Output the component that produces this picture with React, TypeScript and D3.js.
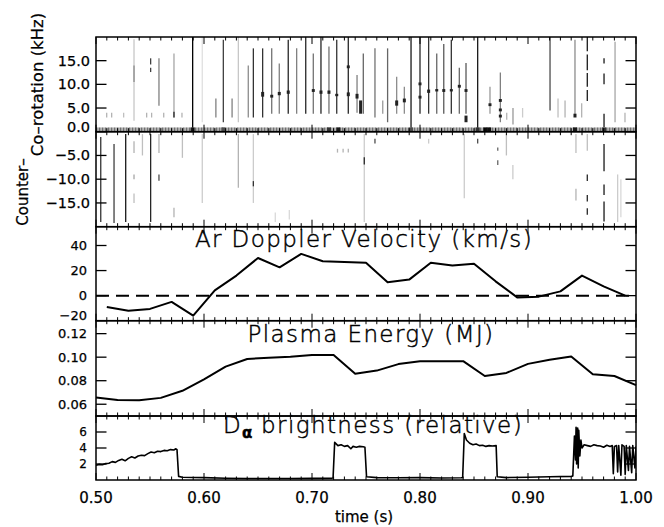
import React from 'react';
import * as d3 from 'd3';

const W = 664, H = 527;
const X0 = 96, X1 = 636;

// ---------- data ----------
const timeTicks = [0.5, 0.6, 0.7, 0.8, 0.9, 1.0];
const timeTickLabels = ['0.50', '0.60', '0.70', '0.80', '0.90', '1.00'];

const coTicks = [0, 5, 10, 15];
const coTickLabels = ['0.0', '5.0', '10.0', '15.0'];
const counterTicks = [-5, -10, -15];
const counterTickLabels = ['\u22125.0', '\u221210.0', '\u221215.0'];
const dopplerTicks = [-20, 0, 20, 40];
const dopplerTickLabels = ['\u221220', '0', '20', '40'];
const energyTicks = [0.06, 0.08, 0.1, 0.12];
const energyTickLabels = ['0.06', '0.08', '0.10', '0.12'];
const daTicks = [2, 4, 6];
const daTickLabels = ['2', '4', '6'];

// spectrogram streaks: [time s, fLow kHz, fHigh kHz, darkness 0..1]
const coStreaks: [number, number, number, number][] = [
  [0.5352, 2.3, 19.5, 0.22], [0.5352, 10.5, 14, 0.45],
  [0.5506, 14.2, 15.5, 0.75], [0.5506, 12.6, 13.5, 0.75],
  [0.5583, 5.5, 15.5, 0.5], [0.5722, 3, 16.5, 0.35], [0.5722, 3, 4.2, 0.85],
  [0.5895, 0, 20, 1.0], [0.5984, 2, 20, 0.12], [0.611, 3, 7, 0.5], [0.6179, 2, 19.4, 0.75],
  [0.626, 3, 7, 0.5], [0.6318, 2, 20, 0.22], [0.641, 3, 14, 0.45],
  [0.6457, 3, 17.6, 0.8], [0.6543, 3, 17.6, 0.8], [0.6627, 3.8, 17.6, 0.55],
  [0.6697, 3.8, 14.4, 0.5], [0.678, 3.8, 19.4, 0.85], [0.6858, 3.8, 17.6, 0.5],
  [0.6942, 3.8, 20, 0.85], [0.7012, 3.8, 16.5, 0.55], [0.7083, 3.8, 20, 0.85],
  [0.7157, 3.8, 18, 0.55], [0.7229, 3.8, 19.4, 0.8], [0.7336, 3.8, 20, 0.85],
  [0.7417, 4, 12, 0.5], [0.7475, 3.8, 16.5, 0.6],
  [0.7583, 3, 17.6, 0.55], [0.7655, 3.8, 6.6, 0.4], [0.77, 2, 17.6, 0.6],
  [0.7784, 3.8, 11.6, 0.45], [0.7855, 3.8, 9.5, 0.45], [0.7917, 0, 20, 0.9],
  [0.8, 3.8, 20, 0.85], [0.808, 3.8, 20, 0.8], [0.8155, 3.8, 16.5, 0.6],
  [0.822, 3.8, 18.5, 0.65], [0.829, 3.8, 19.4, 0.8], [0.8364, 3.8, 13.5, 0.6],
  [0.8426, 3.8, 14.5, 0.65], [0.8534, 0, 20, 0.9], [0.8648, 3.8, 9.5, 0.4],
  [0.8744, 2, 12.5, 0.5], [0.8803, 2.5, 4, 0.3], [0.8861, 1.5, 5, 0.4],
  [0.895, 3, 5, 0.2], [0.9204, 4.5, 20, 0.7], [0.9278, 3, 7, 0.25],
  [0.9343, 3, 6.6, 0.3], [0.9435, 3.5, 19.4, 0.45], [0.9497, 3, 6, 0.3],
  [0.9549, 17, 20, 0.9], [0.9549, 13, 16.3, 0.9], [0.9549, 9.5, 12.4, 0.9], [0.9549, 6.5, 8.8, 0.9],
  [0.9704, 14.4, 15.5, 0.9], [0.9704, 10, 12.3, 0.9], [0.9704, 1, 3.8, 0.9],
  [0.9806, 2, 19, 0.35], [0.9898, 2, 4, 0.3],
  [0.5099, 3, 4, 0.3], [0.5145, 3, 4, 0.3], [0.5256, 3, 4, 0.25], [0.5469, 3, 4, 0.3],
  [0.5515, 3, 4, 0.3], [0.5627, 3, 4, 0.3], [0.5796, 3, 4, 0.3],
];

// dark blobs in co-rotation: [time, fLow, fHigh]
const coBlobs: [number, number, number][] = [
  [0.6543, 7.4, 8.4], [0.6627, 7.2, 7.8], [0.6697, 7.7, 8.4], [0.678, 8, 8.7],
  [0.7012, 8.4, 9], [0.7083, 8, 8.7], [0.7157, 8, 8.7], [0.7229, 7.5, 8],
  [0.7336, 13.4, 14], [0.7336, 7.5, 8.3], [0.745, 3.8, 6.6], [0.7417, 7, 8],
  [0.7784, 5.5, 6.6], [0.7855, 6.2, 7], [0.8, 9.8, 10.4], [0.8, 7, 7.6],
  [0.808, 8.2, 8.9], [0.8155, 8.5, 9], [0.822, 8.4, 9], [0.829, 8.5, 9],
  [0.8364, 9.3, 9.9], [0.8426, 8.4, 9], [0.8426, 2, 3.4], [0.8648, 5.4, 6],
  [0.8744, 6.3, 6.9], [0.8744, 4.3, 4.9], [0.8744, 3, 3.6], [0.9435, 3, 3.8],
];

const counterStreaks: [number, number, number, number][] = [
  [0.5044, -19, -1.1, 0.8], [0.5167, -19.2, -2.6, 0.75], [0.5275, -19, -0.5, 0.9],
  [0.5352, -4.5, -2, 0.3], [0.5352, -10, -9, 0.35], [0.5352, -15, -13, 0.25],
  [0.543, -5, -0.5, 0.25], [0.5506, -19, -0.5, 0.85], [0.5583, -4.5, -0.5, 0.3],
  [0.5583, -10.3, -9, 0.7], [0.5722, -18, -16, 0.3], [0.58, -5.5, -0.5, 0.25],
  [0.5984, -15, -0.5, 0.2], [0.6318, -11.8, -0.5, 0.3], [0.6457, -15, -0.5, 0.2],
  [0.6457, -11.5, -10.4, 0.8], [0.666, -19, -17, 0.15], [0.679, -18.5, -16.5, 0.15],
  [0.7236, -4.4, -3.6, 0.3], [0.7288, -4.4, -3.6, 0.3], [0.7336, -4.4, -3.6, 0.3],
  [0.7484, -19, -0.5, 0.2], [0.7484, -6.9, -5.4, 0.85], [0.7583, -2.5, -1.5, 0.7],
  [0.808, -2.5, -1.5, 0.2], [0.841, -14, -0.5, 0.2], [0.8534, -2.5, -1.5, 0.7],
  [0.872, -4, -3.3, 0.6], [0.872, -7, -6, 0.6], [0.88, -5, -0.5, 0.25],
  [0.886, -10, -7, 0.2], [0.9444, -4.5, -0.5, 0.25], [0.9444, -14.5, -12, 0.3],
  [0.9549, -4, -0.5, 0.25], [0.9549, -10.4, -9, 0.85], [0.9549, -14.7, -13.3, 0.85],
  [0.9549, -17.5, -16.1, 0.85], [0.9704, -8.3, -2.6, 0.9], [0.9704, -13.3, -11.1, 0.9],
  [0.9704, -18.9, -14.7, 0.9], [0.983, -19, -9, 0.2], [0.986, -18, -10, 0.15],
];

// darker spots in the 0 kHz band: [time, darkness]
const bandSpots: [number, number][] = [
  [0.5895, 0.9], [0.6179, 0.7], [0.7157, 0.8], [0.7245, 0.9], [0.7917, 0.7],
  [0.8534, 0.8], [0.8605, 0.95], [0.864, 0.95], [0.9435, 0.9], [0.9704, 0.8],
];

// Ar Doppler velocity (km/s)
const dopplerTime = [0.51, 0.53, 0.55, 0.57, 0.59, 0.61, 0.63, 0.65, 0.67, 0.69, 0.71, 0.73, 0.75,
  0.77, 0.79, 0.81, 0.83, 0.85, 0.87, 0.89, 0.91, 0.93, 0.95, 0.97, 0.99];
const dopplerValue = [-9, -12, -10.6, -5, -16, 4.2, 16, 30, 22.6, 33.3, 27.4, 26.8, 26.2,
  10.6, 12.8, 26.2, 24, 25.4, 11.4, -1.4, -0.8, 3.4, 16, 7.4, 0];

// Plasma energy (MJ)
const energyTime = [0.5, 0.52, 0.54, 0.56, 0.58, 0.6, 0.62, 0.64, 0.66, 0.68, 0.7, 0.72, 0.74,
  0.76, 0.78, 0.8, 0.82, 0.84, 0.86, 0.88, 0.9, 0.92, 0.94, 0.96, 0.98, 1.0];
const energyValue = [0.0657, 0.0635, 0.0633, 0.0654, 0.0714, 0.0812, 0.092, 0.0985, 0.0995, 0.1003,
  0.1018, 0.1018, 0.086, 0.0886, 0.0941, 0.0966, 0.0966, 0.0966, 0.084, 0.0866, 0.0943, 0.0978,
  0.1006, 0.0855, 0.084, 0.0763];

// D-alpha brightness (relative)
const daTime = [0.5, 0.503, 0.506, 0.509, 0.512, 0.515, 0.518, 0.521, 0.524, 0.527, 0.53, 0.533,
  0.536, 0.539, 0.542, 0.545, 0.548, 0.551, 0.554, 0.557, 0.56, 0.563, 0.566, 0.569, 0.572, 0.574,
  0.575, 0.5765, 0.58, 0.6, 0.62, 0.64, 0.66, 0.68, 0.7, 0.718, 0.7195, 0.721, 0.724, 0.727, 0.73,
  0.733, 0.736, 0.738, 0.741, 0.744, 0.7475, 0.749, 0.7505, 0.76, 0.78, 0.8, 0.82, 0.838, 0.8395,
  0.841, 0.843, 0.846, 0.849, 0.852, 0.855, 0.858, 0.861, 0.864, 0.867, 0.8705, 0.8715, 0.88, 0.9,
  0.92, 0.94, 0.9415, 0.943, 0.944, 0.9445, 0.945, 0.946, 0.9465, 0.947, 0.948, 0.949, 0.95, 0.952,
  0.955, 0.958, 0.961, 0.964, 0.967, 0.97, 0.973, 0.976, 0.978, 0.979, 0.98, 0.982, 0.983, 0.984,
  0.986, 0.987, 0.989, 0.99, 0.991, 0.993, 0.994, 0.996, 0.997, 0.999, 1.0];
const daValue = [1.85, 1.95, 1.9, 2.05, 2.1, 2.3, 2.2, 2.45, 2.6, 2.4, 2.7, 2.9,
  2.75, 3.0, 3.1, 3.05, 3.3, 3.5, 3.4, 3.6, 3.55, 3.7, 3.65, 3.8, 3.75, 3.9,
  3.8, 0.45, 0.35, 0.3, 0.22, 0.18, 0.18, 0.18, 0.2, 0.22, 0.25, 4.7, 4.3, 4.4, 4.2,
  4.3, 3.9, 4.2, 4.1, 4.2, 4.15, 4.1, 0.4, 0.3, 0.28, 0.3, 0.25, 0.28, 0.3,
  5.8, 5.0, 4.6, 4.4, 4.5, 4.3, 4.35, 4.2, 4.3, 4.25, 4.3, 0.4, 0.3, 0.35,
  0.4, 0.45, 0.5, 5.5, 2.5, 6.6, 2.0, 6.5, 1.5, 6.2, 3.0, 5.0, 4.0, 4.4,
  4.3, 4.2, 4.4, 4.3, 4.25, 4.1, 4.35, 4.2, 4.3, 0.8, 4.2, 4.3, 1.0, 4.3,
  0.6, 4.4, 4.2, 0.7, 4.3, 1.2, 4.2, 0.9, 4.3, 1.5, 4.2];

// ---------- layout ----------
const x = d3.scaleLinear().domain([0.5, 1.0]).range([X0, X1]);

type Panel = { top: number; bottom: number; domain: [number, number]; ticks: number[]; labels: string[]; fs: number; lx: number };
const panels: Panel[] = [
  { top: 37, bottom: 131.7, domain: [0, 20], ticks: coTicks, labels: coTickLabels, fs: 14.5, lx: 90 },
  { top: 131.7, bottom: 226.7, domain: [-20, 0], ticks: counterTicks, labels: counterTickLabels, fs: 14.5, lx: 90 },
  { top: 226.7, bottom: 320.7, domain: [-20, 55], ticks: dopplerTicks, labels: dopplerTickLabels, fs: 13, lx: 87 },
  { top: 320.7, bottom: 416, domain: [0.05, 0.131], ticks: energyTicks, labels: energyTickLabels, fs: 13, lx: 87 },
  { top: 416, bottom: 480, domain: [0, 8], ticks: daTicks, labels: daTickLabels, fs: 12, lx: 87 },
];
const yScales = panels.map(p => d3.scaleLinear().domain(p.domain).range([p.bottom, p.top]));
const [yCo, yCounter, yDop, yEn, yDa] = yScales;

const minorTimes = d3.range(0, 51).map(i => 0.5 + i * 0.01);
const TICK_FONT = '"DejaVu Sans", Verdana, sans-serif';
const TITLE_FONT = '"DejaVu Sans", sans-serif';

const grey = (lvl: number) => {
  const v = Math.round(255 * (1 - lvl));
  return `rgb(${v},${v},${v})`;
};

export default function App() {
  const dopLine = d3.line<number>().x((_, i) => x(dopplerTime[i])).y(d => yDop(d));
  const enLine = d3.line<number>().x((_, i) => x(energyTime[i])).y(d => yEn(d));
  const daLine = d3.line<number>().x((_, i) => x(daTime[i])).y(d => yDa(d));

  const titleProps = {
    fontFamily: TITLE_FONT, fontWeight: 200, fontSize: 23, letterSpacing: 1.4, fill: '#000',
    stroke: '#000', strokeWidth: 0.45, textAnchor: 'middle' as const,
  };
  const tickProps = { fontFamily: TICK_FONT, fill: '#000', stroke: '#000', strokeWidth: 0.25 };

  return (
    <svg width={W} height={H} style={{ position: 'absolute', left: 0, top: 0, background: '#fff' }}
      xmlns="http://www.w3.org/2000/svg">
      <defs>
        <pattern id="band" width="3" height="5" patternUnits="userSpaceOnUse">
          <rect width="3" height="5" fill="#b4b4b4" />
          <rect width="1.2" height="5" fill="#707070" />
        </pattern>
        <clipPath id="plotclip"><rect x={X0} y={37} width={X1 - X0} height={480 - 37} /></clipPath>
      </defs>

      {/* spectrogram */}
      <g clipPath="url(#plotclip)">
        {coStreaks.map((s, i) => (
          <line key={'c' + i} x1={x(s[0])} x2={x(s[0])} y1={yCo(s[1])} y2={yCo(s[2])}
            stroke={grey(s[3])} strokeWidth={1.3} />
        ))}
        {coBlobs.map((b, i) => (
          <rect key={'b' + i} x={x(b[0]) - 1.5} width={3} y={yCo(b[2])} height={yCo(b[1]) - yCo(b[2])}
            fill="#222" />
        ))}
        {counterStreaks.map((s, i) => (
          <line key={'n' + i} x1={x(s[0])} x2={x(s[0])} y1={yCounter(s[1])} y2={yCounter(s[2])}
            stroke={grey(s[3])} strokeWidth={1.3} />
        ))}
        <rect x={X0} width={X1 - X0} y={yCo(0.9)} height={yCo(0) - yCo(0.9)} fill="url(#band)" />
        {bandSpots.map((b, i) => (
          <rect key={'s' + i} x={x(b[0]) - 2} width={4} y={yCo(0.9)} height={yCo(0) - yCo(0.9)}
            fill={grey(b[1])} />
        ))}
      </g>

      {/* Doppler */}
      <line x1={X0} x2={X1} y1={yDop(0)} y2={yDop(0)} stroke="#000" strokeWidth={2} strokeDasharray="13,7" />
      <path d={dopLine(dopplerValue) || ''} fill="none" stroke="#000" strokeWidth={2} strokeLinejoin="round" />
      {/* Energy */}
      <path d={enLine(energyValue) || ''} fill="none" stroke="#000" strokeWidth={2} strokeLinejoin="round" />
      {/* D alpha */}
      <g clipPath="url(#plotclip)">
        <path d={daLine(daValue) || ''} fill="none" stroke="#000" strokeWidth={1.6} strokeLinejoin="round" />
      </g>

      {/* panel frames & ticks */}
      {panels.map((p, pi) => {
        const y = yScales[pi];
        return (
          <g key={'p' + pi}>
            <rect x={X0} y={p.top} width={X1 - X0} height={p.bottom - p.top} fill="none" stroke="#000" strokeWidth={1.5} />
            {minorTimes.map((t, i) => {
              const major = i % 10 === 0;
              const len = major ? 7 : 3.5;
              return (
                <g key={'t' + i}>
                  <line x1={x(t)} x2={x(t)} y1={p.top} y2={p.top + len} stroke="#000" strokeWidth={1} />
                  <line x1={x(t)} x2={x(t)} y1={p.bottom} y2={p.bottom - len} stroke="#000" strokeWidth={1} />
                </g>
              );
            })}
            {p.ticks.map((v, i) => {
              const yy = y(v);
              const atBottom = Math.abs(yy - p.bottom) < 2;
              return (
                <g key={'y' + i}>
                  <line x1={X0} x2={X0 + 10.5} y1={yy} y2={yy} stroke="#000" strokeWidth={1.3} />
                  <line x1={X1} x2={X1 - 10.5} y1={yy} y2={yy} stroke="#000" strokeWidth={1.3} />
                  <text x={p.lx} y={atBottom ? yy - 5 : yy} textAnchor="end" dominantBaseline="central"
                    fontSize={p.fs} {...tickProps}>{p.labels[i]}</text>
                </g>
              );
            })}
          </g>
        );
      })}

      {/* x tick labels */}
      {timeTicks.map((t, i) => (
        <text key={'xl' + i} x={x(t)} y={503} textAnchor="middle" fontSize={15} {...tickProps}>
          {timeTickLabels[i]}
        </text>
      ))}
      <text x={364} y={522} textAnchor="middle" fontSize={15} {...tickProps}>time (s)</text>

      {/* y axis title */}
      <text transform="translate(28,192) rotate(-90)" textAnchor="middle" fontSize={15} {...tickProps}>
        Counter–
      </text>
      <text transform="translate(43,84.5) rotate(-90)" textAnchor="middle" fontSize={16.5} {...tickProps}>
        Co–rotation (kHz)
      </text>

      {/* panel titles */}
      <text x={364} y={247} {...titleProps}>Ar Doppler Velocity (km/s)</text>
      <text x={371} y={342} {...titleProps}>Plasma Energy (MJ)</text>
      <text x={373} y={433} {...titleProps}>
        D<tspan fontSize={15} fontWeight={700} letterSpacing={0} dy={5}>α</tspan>
        <tspan dy={-5}>  brightness (relative)</tspan>
      </text>
    </svg>
  );
}
